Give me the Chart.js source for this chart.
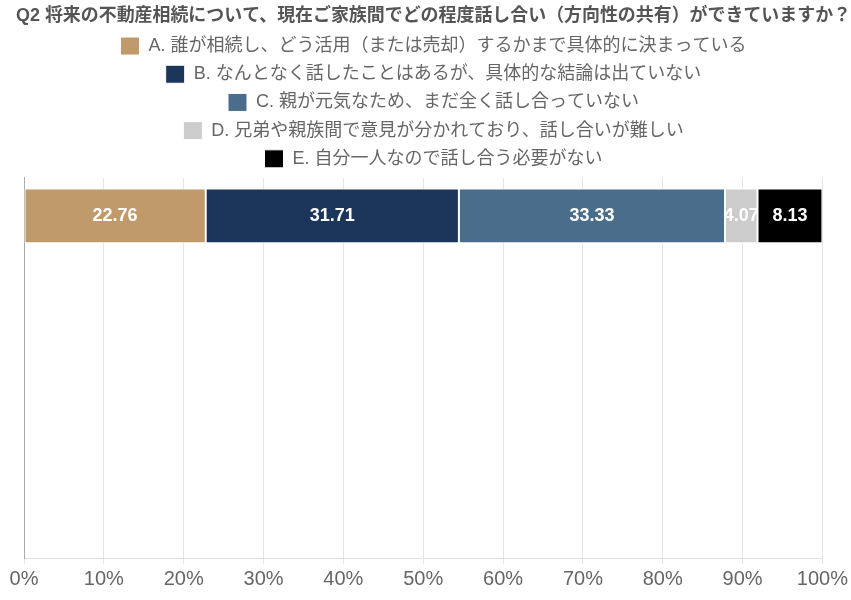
<!DOCTYPE html>
<html><head><meta charset="utf-8">
<script src="https://cdn.jsdelivr.net/npm/chart.js@4/dist/chart.umd.min.js"></script>
<style>html,body{margin:0;padding:0;background:#fff}#wrap{width:851px;height:600px}</style>
</head><body><div id="wrap"><canvas id="c"></canvas></div>
<script>
const titleText = 'Q2 将来の不動産相続について、現在ご家族間でどの程度話し合い（方向性の共有）ができていますか？';
const categories = ['Q2', '', '', '', ''];
const seriesNames = [
  'A. 誰が相続し、どう活用（または売却）するかまで具体的に決まっている',
  'B. なんとなく話したことはあるが、具体的な結論は出ていない',
  'C. 親が元気なため、まだ全く話し合っていない',
  'D. 兄弟や親族間で意見が分かれており、話し合いが難しい',
  'E. 自分一人なので話し合う必要がない'
];
const valuesA = [22.76];
const valuesB = [31.71];
const valuesC = [33.33];
const valuesD = [4.07];
const valuesE = [8.13];
const seriesColors = ['#c19a6b', '#1b355b', '#4a6d8c', '#cccccc', '#000000'];
const xTicks = [0, 10, 20, 30, 40, 50, 60, 70, 80, 90, 100];

const FONT = "'Liberation Sans', Arial, 'Noto Sans CJK JP', sans-serif";
const seriesValues = [valuesA, valuesB, valuesC, valuesD, valuesE];

const valueLabels = {
  id: 'valueLabels',
  afterDatasetsDraw(chart) {
    const ctx = chart.ctx;
    ctx.save();
    ctx.font = 'bold 18px ' + FONT;
    ctx.fillStyle = '#ffffff';
    ctx.textAlign = 'center';
    ctx.textBaseline = 'middle';
    chart.data.datasets.forEach((ds, i) => {
      const meta = chart.getDatasetMeta(i);
      meta.data.forEach((bar, j) => {
        const v = ds.data[j];
        if (v == null) return;
        const x = (bar.x + bar.base) / 2;
        ctx.fillText(v.toFixed(2), x, bar.y);
      });
    });
    ctx.restore();
  }
};

new Chart(document.getElementById('c'), {
  type: 'bar',
  data: {
    labels: categories,
    datasets: seriesNames.map((n, i) => ({
      label: n,
      data: seriesValues[i],
      backgroundColor: seriesColors[i],
      borderColor: '#ffffff',
      borderWidth: 1,
      borderSkipped: false
    }))
  },
  options: {
    indexAxis: 'y',
    responsive: true,
    maintainAspectRatio: false,
    animation: false,
    layout: { padding: { left: 16, right: 0, top: 0, bottom: 6 } },
    plugins: {
      title: {
        display: true,
        text: titleText,
        color: '#555555',
        font: { family: FONT, size: 18.2, weight: 'bold' },
        padding: { top: 5, bottom: 0 }
      },
      legend: {
        display: true,
        position: 'top',
        labels: {
          boxWidth: 19,
          boxHeight: 18,
          padding: 10.2,
          color: '#666666',
          font: { family: FONT, size: 18 }
        }
      },
      tooltip: { enabled: false }
    },
    scales: {
      x: {
        stacked: true,
        min: 0,
        max: 100,
        afterBuildTicks(axis) { axis.ticks = xTicks.map(v => ({ value: v })); },
        ticks: {
          color: '#666666',
          font: { family: FONT, size: 20 },
          callback: v => v + '%'
        },
        grid: { color: '#e5e5e5', drawTicks: true, tickLength: 6 },
        border: { color: '#e0e0e0' }
      },
      y: {
        stacked: true,
        ticks: { display: false },
        grid: { display: false },
        border: { display: true, color: '#aaaaaa' }
      }
    }
  },
  plugins: [valueLabels]
});
</script></body></html>
